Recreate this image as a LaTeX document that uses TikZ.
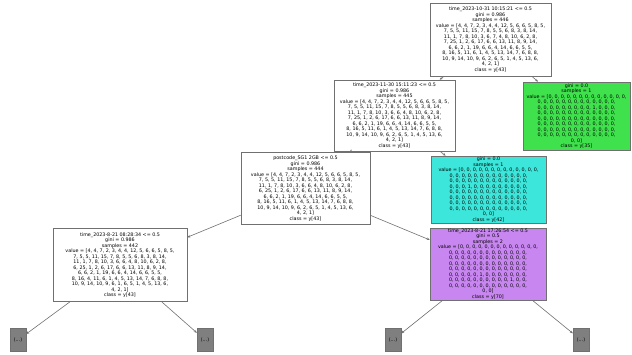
\documentclass[tikz,border=0pt]{standalone}
\usepackage{fontspec}
\setmainfont{DejaVu Sans}
\usepackage{xcolor}
\usepackage{tikz}
\usetikzlibrary{arrows.meta}
\definecolor{leafgreen}{HTML}{3FE24C}
\definecolor{leafcyan}{HTML}{3DE6DA}
\definecolor{leafviolet}{HTML}{C886F0}
\definecolor{cutgrey}{HTML}{7F7F7F}
\definecolor{edgegrey}{HTML}{707070}
\newcommand{\zrow}{0, 0, 0, 0, 0, 0, 0, 0, 0, 0, 0, 0, 0,}

\begin{document}
\begin{tikzpicture}[x=1pt, y=-1pt, every node/.style={font=\fontsize{4.8}{5.5}\selectfont, align=center, inner sep=0.5pt}]
  \tikzset{
    splitbox/.style={draw=edgegrey, line width=0.6pt, fill=white},
    cutbox/.style={draw=edgegrey, fill=cutgrey, minimum width=16pt, minimum height=23pt},
    branch/.style={-{Stealth[length=3pt, width=2.6pt]}, edgegrey, line width=0.6pt}
  }
  \useasboundingbox (0,0) rectangle (632,354);
  % split nodes
  \node[splitbox, minimum width=121pt, minimum height=73pt] (root) at (490.5,39.5) {time\_2023-10-31 10:15:21 <= 0.5\\ gini = 0.986\\ samples = 446\\
    value = [4, 4, 7, 2, 3, 4, 4, 12, 5, 6, 6, 5, 8, 5,\\ 7, 5, 5, 11, 15, 7, 8, 5, 5, 6, 8, 3, 8, 14,\\ 11, 1, 7, 8, 10, 3, 6, 7, 4, 8, 10, 6, 2, 8,\\
    7, 25, 1, 2, 6, 17, 6, 6, 13, 11, 8, 9, 14,\\ 6, 6, 2, 1, 19, 6, 6, 4, 14, 6, 6, 5, 5,\\ 8, 16, 5, 11, 6, 1, 4, 5, 13, 14, 7, 6, 8, 8,\\
    10, 9, 14, 10, 9, 6, 2, 6, 5, 1, 4, 5, 13, 6,\\ 4, 2, 1]\\ class = y[43]};
  \node[splitbox, minimum width=121pt, minimum height=71pt] (n2) at (394.5,115.5) {time\_2023-11-30 15:11:23 <= 0.5\\ gini = 0.986\\ samples = 445\\
    value = [4, 4, 7, 2, 3, 4, 4, 12, 5, 6, 6, 5, 8, 5,\\ 7, 5, 5, 11, 15, 7, 8, 5, 5, 6, 8, 3, 8, 14,\\ 11, 1, 7, 8, 10, 3, 6, 6, 4, 8, 10, 6, 2, 8,\\
    7, 25, 1, 2, 6, 17, 6, 6, 13, 11, 8, 9, 14,\\ 6, 6, 2, 1, 19, 6, 6, 4, 14, 6, 6, 5, 5,\\ 8, 16, 5, 11, 6, 1, 4, 5, 13, 14, 7, 6, 8, 8,\\
    10, 9, 14, 10, 9, 6, 2, 6, 5, 1, 4, 5, 13, 6,\\ 4, 2, 1]\\ class = y[43]};
  \node[splitbox, minimum width=129pt, minimum height=72pt] (n3) at (305.5,188.5) {postcode\_SG1 2GB <= 0.5\\ gini = 0.986\\ samples = 444\\
    value = [4, 4, 7, 2, 3, 4, 4, 12, 5, 6, 6, 5, 8, 5,\\ 7, 5, 5, 11, 15, 7, 8, 5, 5, 6, 8, 3, 8, 14,\\ 11, 1, 7, 8, 10, 3, 6, 6, 4, 8, 10, 6, 2, 8,\\
    6, 25, 1, 2, 6, 17, 6, 6, 13, 11, 8, 9, 14,\\ 6, 6, 2, 1, 19, 6, 6, 4, 14, 6, 6, 5, 5,\\ 8, 16, 5, 11, 6, 1, 4, 5, 13, 14, 7, 6, 8, 8,\\
    10, 9, 14, 10, 9, 6, 2, 6, 5, 1, 4, 5, 13, 6,\\ 4, 2, 1]\\ class = y[43]};
  \node[splitbox, minimum width=134pt, minimum height=73pt] (n4) at (120,265) {time\_2023-8-21 08:28:34 <= 0.5\\ gini = 0.986\\ samples = 442\\
    value = [4, 4, 7, 2, 3, 4, 4, 12, 5, 6, 6, 5, 8, 5,\\ 7, 5, 5, 11, 15, 7, 8, 5, 5, 6, 8, 3, 8, 14,\\ 11, 1, 7, 8, 10, 3, 6, 6, 4, 8, 10, 6, 2, 8,\\
    6, 25, 1, 2, 6, 17, 6, 6, 13, 11, 8, 9, 14,\\ 6, 6, 2, 1, 19, 6, 6, 4, 14, 6, 6, 5, 5,\\ 8, 16, 4, 11, 6, 1, 4, 5, 13, 14, 7, 6, 8, 8,\\
    10, 9, 14, 10, 9, 6, 1, 6, 5, 1, 4, 5, 13, 6,\\ 4, 2, 1]\\ class = y[43]};
  \node[splitbox, fill=leafviolet, minimum width=116pt, minimum height=72pt] (n7) at (488,264) {time\_2023-8-21 17:26:54 <= 0.5\\ gini = 0.5\\ samples = 2\\
    value = [\zrow\\ \zrow\\ \zrow\\ \zrow\\ \zrow\\ 0, 0, 0, 0, 0, 1, 0, 0, 0, 0, 0, 0, 0,\\ 0, 0, 0, 0, 0, 0, 0, 0, 0, 0, 1, 0, 0,\\ \zrow\\ 0, 0]\\ class = y[70]};
  % pure leaves
  \node[splitbox, fill=leafgreen, minimum width=107pt, minimum height=68pt] (n5) at (576.5,116) {gini = 0.0\\ samples = 1\\
    value = [\zrow\\ \zrow\\ 0, 0, 0, 0, 0, 0, 0, 0, 0, 1, 0, 0, 0,\\ \zrow\\ \zrow\\ \zrow\\ \zrow\\ \zrow\\ 0, 0]\\ class = y[35]};
  \node[splitbox, fill=leafcyan, minimum width=115pt, minimum height=67pt] (n6) at (488.5,189.5) {gini = 0.0\\ samples = 1\\
    value = [\zrow\\ \zrow\\ \zrow\\ 0, 0, 0, 1, 0, 0, 0, 0, 0, 0, 0, 0, 0,\\ \zrow\\ \zrow\\ \zrow\\ \zrow\\ 0, 0]\\ class = y[42]};
  % truncated subtrees
  \node[cutbox] (c1) at (18,340) {(...)};
  \node[cutbox] (c2) at (205,340) {(...)};
  \node[cutbox] (c3) at (393,340) {(...)};
  \node[cutbox] (c4) at (581,340) {(...)};
  % branches
  \draw[branch] (root) -- (n2);
  \draw[branch] (root) -- (n5);
  \draw[branch] (n2) -- (n3);
  \draw[branch] (n2) -- (n6);
  \draw[branch] (n3) -- (n4);
  \draw[branch] (n3) -- (n7);
  \draw[branch] (n4) -- (c1);
  \draw[branch] (n4) -- (c2);
  \draw[branch] (n7) -- (c3);
  \draw[branch] (n7) -- (c4);
\end{tikzpicture}
\end{document}
